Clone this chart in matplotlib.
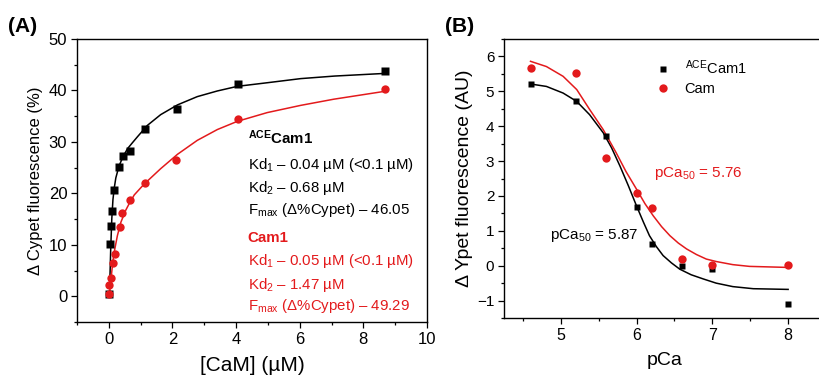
import numpy as np
import matplotlib
matplotlib.use("Agg")
import matplotlib.pyplot as plt
from matplotlib.ticker import MultipleLocator

plt.rcParams['font.family'] = ['Liberation Sans', 'DejaVu Sans']
plt.rcParams['mathtext.fontset'] = 'custom'
plt.rcParams['mathtext.rm'] = 'Liberation Sans'
plt.rcParams['mathtext.it'] = 'Liberation Sans'
plt.rcParams['mathtext.bf'] = 'Liberation Sans:bold'

# ---- Panel A: CaM titration ----
ace_cam = [0.0, 0.04, 0.06, 0.09, 0.15, 0.32, 0.46, 0.66, 1.14, 2.14, 4.06, 8.67]
ace_f = [0.45, 10.2, 13.6, 16.6, 20.7, 25.2, 27.2, 28.2, 32.6, 36.4, 41.3, 43.7]
cam_cam = [0.0, 0.01, 0.06, 0.12, 0.19, 0.35, 0.43, 0.66, 1.14, 2.12, 4.07, 8.67]
cam_f = [0.45, 2.2, 3.5, 6.4, 8.3, 13.5, 16.2, 18.7, 22.0, 26.4, 34.5, 40.2]

# fitted curves
ace_fit_x = [0.03, 0.06, 0.094, 0.13, 0.17, 0.22, 0.32, 0.45, 0.59, 0.75, 0.9,
             1.21, 1.63, 2.16, 2.78, 3.41, 4.04, 4.98, 6.03, 7.1, 8.64]
ace_fit_y = [2.5, 9.3, 15.1, 18.8, 21.0, 23.0, 25.3, 27.2, 28.7, 29.9, 31.0,
             33.2, 35.3, 37.2, 38.8, 39.9, 40.8, 41.5, 42.3, 42.8, 43.3]
cam_fit_x = [0.03, 0.06, 0.12, 0.17, 0.27, 0.38, 0.53, 0.64, 0.8, 1.11, 1.63,
             2.16, 2.78, 3.41, 4.04, 4.98, 6.03, 7.07, 8.64]
cam_fit_y = [1.0, 2.8, 6.4, 8.6, 11.8, 14.4, 16.7, 18.0, 19.7, 21.8, 24.8,
             27.6, 30.3, 32.4, 34.0, 35.7, 37.1, 38.3, 39.8]

# ---- Panel B: pCa titration ----
pca = [4.6, 5.2, 5.6, 6.0, 6.2, 6.6, 7.0, 8.0]
ace_ypet = [5.21, 4.73, 3.71, 1.67, 0.62, 0.0, -0.1, -1.09]
cam_ypet = [5.67, 5.52, 3.08, 2.08, 1.65, 0.19, 0.03, 0.03]

ace_b_fit_x = [4.6, 4.81, 5.03, 5.21, 5.38, 5.56, 5.67, 5.78, 5.89, 6.0, 6.09,
               6.17, 6.26, 6.35, 6.46, 6.57, 6.72, 6.88, 7.05, 7.27, 7.54, 8.0]
ace_b_fit_y = [5.21, 5.14, 4.95, 4.71, 4.33, 3.81, 3.38, 2.86, 2.3, 1.71, 1.25,
               0.86, 0.55, 0.29, 0.08, -0.1, -0.26, -0.38, -0.5, -0.6, -0.66, -0.68]
cam_b_fit_x = [4.6, 4.81, 5.03, 5.21, 5.38, 5.56, 5.73, 5.86, 6.0, 6.11, 6.22,
               6.33, 6.44, 6.55, 6.66, 6.79, 6.92, 7.05, 7.27, 7.49, 8.0]
cam_b_fit_y = [5.86, 5.71, 5.43, 5.05, 4.48, 3.9, 3.24, 2.7, 2.19, 1.78, 1.43,
               1.12, 0.86, 0.65, 0.48, 0.32, 0.19, 0.12, 0.03, -0.02, -0.05]

red = '#e31a1c'

fig = plt.figure(figsize=(8.2, 3.75), dpi=100)
axA = fig.add_axes([77/820, 53/375, 350/820, 283/375])
axB = fig.add_axes([504/820, 57/375, 322/820, 279/375])

for ax in (axA, axB):
    for s in ax.spines.values():
        s.set_linewidth(1.0)
    ax.tick_params(which='major', direction='out', length=4, width=0.9, pad=3)
    ax.tick_params(which='minor', direction='out', length=2.2, width=0.9)

# panel A
axA.plot(ace_fit_x, ace_fit_y, color='black', lw=1.1)
axA.plot(cam_fit_x, cam_fit_y, color=red, lw=1.1)
axA.plot(ace_cam, ace_f, 's', color='black', ms=5.5, mec='none')
axA.plot(cam_cam, cam_f, 'o', color=red, ms=6, mec='none')
axA.set_xlim(-1, 10)
axA.set_ylim(-5, 50)
axA.xaxis.set_major_locator(MultipleLocator(2))
axA.xaxis.set_minor_locator(MultipleLocator(1))
axA.yaxis.set_major_locator(MultipleLocator(10))
axA.yaxis.set_minor_locator(MultipleLocator(5))
axA.tick_params(labelsize=12)
axA.set_xlabel('[CaM] (µM)', fontsize=15, labelpad=7)
axA.set_ylabel('Δ Cypet fluorescence (%)', fontsize=12, labelpad=4)

txt = [
    (29.5, r'$^{\mathbf{ACE}}$Cam1', 'black', 'bold'),
    (24.7, r'Kd$_1$ – 0.04 µM (<0.1 µM)', 'black', 'normal'),
    (20.2, r'Kd$_2$ – 0.68 µM', 'black', 'normal'),
    (16.0, r'F$_{\mathrm{max}}$ (Δ%Cypet) – 46.05', 'black', 'normal'),
    (10.6, 'Cam1', red, 'bold'),
    (6.0, r'Kd$_1$ – 0.05 µM (<0.1 µM)', red, 'normal'),
    (1.5, r'Kd$_2$ – 1.47 µM', red, 'normal'),
    (-2.6, r'F$_{\mathrm{max}}$ (Δ%Cypet) – 49.29', red, 'normal'),
]
for y, s, c, w in txt:
    axA.text(4.36, y, s, color=c, fontweight=w, fontsize=10.8, va='baseline')

# panel B
axB.plot(ace_b_fit_x, ace_b_fit_y, color='black', lw=1.1)
axB.plot(cam_b_fit_x, cam_b_fit_y, color=red, lw=1.1)
axB.plot(pca, ace_ypet, 's', color='black', ms=5, mec='none', label=r'$^{\mathrm{ACE}}$Cam1')
axB.plot(pca, cam_ypet, 'o', color=red, ms=6, mec='none', label='Cam')
axB.set_xlim(4.25, 8.5)
axB.set_ylim(-1.5, 6.5)
axB.xaxis.set_major_locator(MultipleLocator(1))
axB.xaxis.set_minor_locator(MultipleLocator(0.5))
axB.yaxis.set_major_locator(MultipleLocator(1))
axB.yaxis.set_minor_locator(MultipleLocator(0.5))
axB.tick_params(axis='x', labelsize=11.5)
axB.tick_params(axis='y', labelsize=11)
axB.set_xlabel('pCa', fontsize=14, labelpad=7)
axB.set_ylabel('Δ Ypet fluorescence (AU)', fontsize=14, labelpad=3)
axB.legend(loc='upper left', bbox_to_anchor=(0.47, 0.93), frameon=False,
           fontsize=10.5, handlelength=1.0, handletextpad=1.0, labelspacing=0.35,
           borderaxespad=0, borderpad=0)
axB.text(6.23, 2.55, r'pCa$_{50}$ = 5.76', color=red, fontsize=11, va='baseline')
axB.text(4.86, 0.76, r'pCa$_{50}$ = 5.87', color='black', fontsize=11, va='baseline')

fig.text(8/820, 1 - 32/375, '(A)', fontsize=15, fontweight='bold', va='baseline')
fig.text(445/820, 1 - 32/375, '(B)', fontsize=15, fontweight='bold', va='baseline')

fig.savefig('out.png', dpi=100)
